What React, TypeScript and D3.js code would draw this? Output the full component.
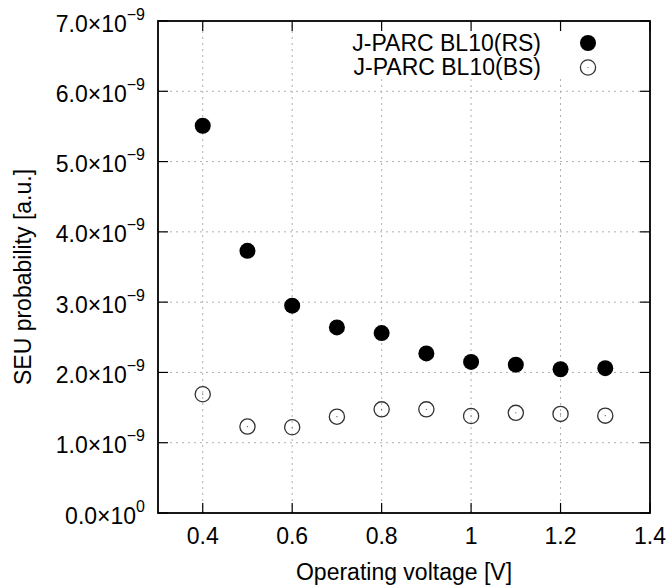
import React from "react";
import * as d3 from "d3";

const voltages = [0.4, 0.5, 0.6, 0.7, 0.8, 0.9, 1.0, 1.1, 1.2, 1.3];
const rsValues = [5.51e-9, 3.73e-9, 2.95e-9, 2.64e-9, 2.56e-9, 2.27e-9, 2.15e-9, 2.11e-9, 2.045e-9, 2.06e-9];
const bsValues = [1.69e-9, 1.23e-9, 1.22e-9, 1.37e-9, 1.475e-9, 1.475e-9, 1.38e-9, 1.425e-9, 1.41e-9, 1.385e-9];
const seriesNames = ["J-PARC BL10(RS)", "J-PARC BL10(BS)"];
const xTicks = [0.4, 0.6, 0.8, 1.0, 1.2, 1.4];
const xTickLabels = ["0.4", "0.6", "0.8", "1", "1.2", "1.4"];
const yTicks = [0, 1e-9, 2e-9, 3e-9, 4e-9, 5e-9, 6e-9, 7e-9];
const yTickMantissa = ["0.0", "1.0", "2.0", "3.0", "4.0", "5.0", "6.0", "7.0"];
const yTickExponent = ["0", "−9", "−9", "−9", "−9", "−9", "−9", "−9"];
const xTitle = "Operating voltage [V]";
const yTitle = "SEU probability [a.u.]";

const W = 671, H = 587;
const L = 158, R = 650, T = 21, B = 513;
const FONT = "'Liberation Sans', Arial, Helvetica, sans-serif";

export default function App() {
  const x = d3.scaleLinear().domain([0.3, 1.4]).range([L, R]);
  const y = d3.scaleLinear().domain([0, 7e-9]).range([B, T]);
  const tickLen = 10;
  const gridColor = "#b0b0b0";

  return (
    <svg width={W} height={H} style={{ position: "absolute", left: 0, top: 0, background: "#fff" }} fontFamily={FONT}>
      <rect x={0} y={0} width={W} height={H} fill="#fff" />
      {/* grid */}
      {xTicks.filter((t) => x(t) < R - 1).map((t, i) => (
        <line key={"gx" + i} x1={x(t)} x2={x(t)} y1={B} y2={T} stroke={gridColor} strokeWidth={1} strokeDasharray="2,4" />
      ))}
      {yTicks.filter((t) => y(t) > T + 1 && y(t) < B - 1).map((t, i) => (
        <line key={"gy" + i} x1={L} x2={R} y1={y(t)} y2={y(t)} stroke={gridColor} strokeWidth={1} strokeDasharray="2,4" />
      ))}
      {/* legend background */}
      <rect x={342} y={T + 1} width={285} height={57} fill="#fff" />
      {/* ticks */}
      {xTicks.map((t, i) => (
        <g key={"tx" + i}>
          <line x1={x(t)} x2={x(t)} y1={B} y2={B - tickLen} stroke="#000" strokeWidth={1.2} />
          <line x1={x(t)} x2={x(t)} y1={T} y2={T + tickLen} stroke="#000" strokeWidth={1.2} />
          <text x={x(t)} y={544} textAnchor="middle" fontSize={23} fill="#000">{xTickLabels[i]}</text>
        </g>
      ))}
      {yTicks.map((t, i) => (
        <g key={"ty" + i}>
          <line x1={L} x2={L + tickLen} y1={y(t)} y2={y(t)} stroke="#000" strokeWidth={1.2} />
          <line x1={R} x2={R - tickLen} y1={y(t)} y2={y(t)} stroke="#000" strokeWidth={1.2} />
          <text x={145} y={y(t) + 10.5} textAnchor="end" fontSize={23} fill="#000">
            {yTickMantissa[i] + "×10"}
            <tspan dy={-12} fontSize={16}>{yTickExponent[i]}</tspan>
          </text>
        </g>
      ))}
      {/* frame */}
      <rect x={L} y={T} width={R - L} height={B - T} fill="none" stroke="#000" strokeWidth={1.8} />
      {/* points */}
      {voltages.map((v, i) => (
        <circle key={"rs" + i} cx={x(v)} cy={y(rsValues[i])} r={8} fill="#000" />
      ))}
      {voltages.map((v, i) => (
        <g key={"bs" + i}>
          <circle cx={x(v)} cy={y(bsValues[i])} r={7.6} fill="none" stroke="#333" strokeWidth={1.3} />
          <circle cx={x(v)} cy={y(bsValues[i])} r={0.6} fill="#555" />
        </g>
      ))}
      {/* legend */}
      <text x={541} y={51} textAnchor="end" fontSize={23} fill="#000">{seriesNames[0]}</text>
      <circle cx={588} cy={43} r={8} fill="#000" />
      <text x={541} y={75} textAnchor="end" fontSize={23} fill="#000">{seriesNames[1]}</text>
      <circle cx={588} cy={67.5} r={7.6} fill="none" stroke="#333" strokeWidth={1.3} />
      <circle cx={588} cy={67.5} r={0.6} fill="#555" />
      {/* axis titles */}
      <text x={(L + R) / 2} y={580} textAnchor="middle" fontSize={23} fill="#000">{xTitle}</text>
      <text transform={`translate(31,277) rotate(-90)`} textAnchor="middle" fontSize={23} fill="#000">{yTitle}</text>
    </svg>
  );
}
